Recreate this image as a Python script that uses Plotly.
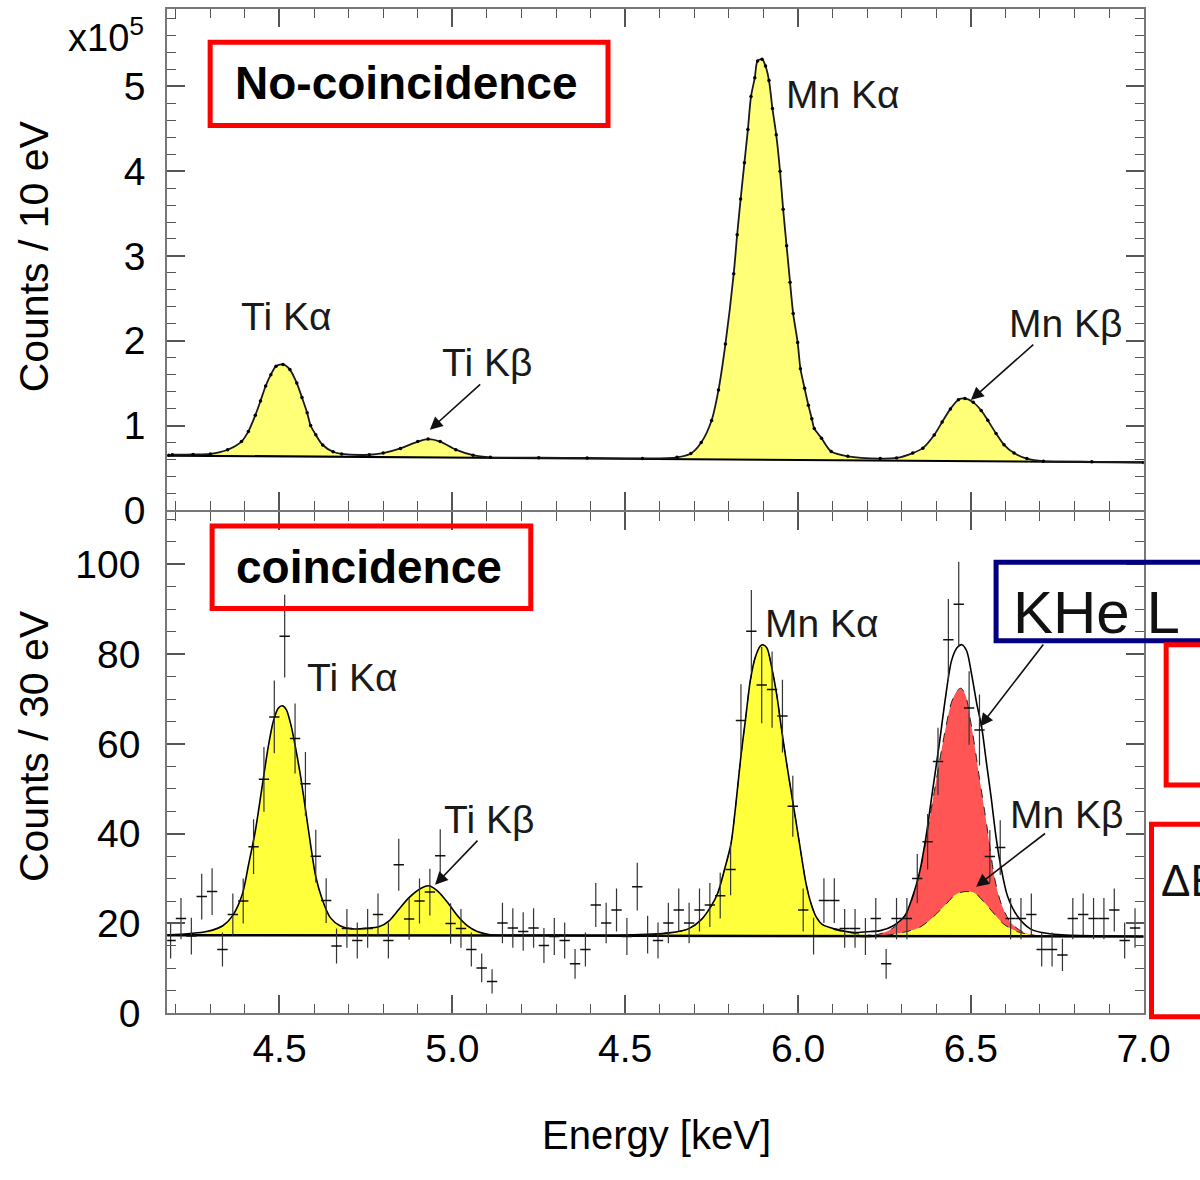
import plotly.graph_objects as go

# ------------------------------------------------------------------
# DATA
# ------------------------------------------------------------------
# Top panel: no-coincidence spectrum, counts / 10 eV in units of 1e5
top_E = [4.18, 4.19, 4.25, 4.30, 4.35, 4.39, 4.41, 4.43, 4.445, 4.46, 4.475, 4.49,
         4.51, 4.53, 4.55, 4.565, 4.58, 4.59, 4.605, 4.625, 4.655, 4.68, 4.76, 4.80,
         4.85, 4.90, 4.93, 4.965, 5.01, 5.06, 5.11, 5.25, 5.39, 5.55, 5.65, 5.69,
         5.72, 5.75, 5.77, 5.79, 5.814, 5.824, 5.834, 5.845, 5.855, 5.864, 5.875,
         5.883, 5.896, 5.906, 5.916, 5.926, 5.937, 5.948, 5.957, 5.967, 5.977,
         5.986, 5.999, 6.007, 6.019, 6.030, 6.040, 6.047, 6.068, 6.096, 6.144,
         6.238, 6.285, 6.332, 6.361, 6.394, 6.417, 6.441, 6.464, 6.483, 6.507,
         6.530, 6.549, 6.573, 6.596, 6.625, 6.662, 6.71, 6.85, 7.0]
top_counts = [0.650, 0.656, 0.658, 0.665, 0.714, 0.81, 0.93, 1.12, 1.29, 1.466, 1.60, 1.70,
              1.72, 1.66, 1.50, 1.33, 1.15, 1.00, 0.89, 0.77, 0.69, 0.665, 0.655, 0.675,
              0.73, 0.81, 0.84, 0.81, 0.715, 0.65, 0.625, 0.62, 0.617, 0.612, 0.625, 0.67,
              0.80, 1.06, 1.42, 1.96, 2.79, 3.25, 3.67, 4.10, 4.49, 4.88, 5.10,
              5.30, 5.32, 5.24, 5.07, 4.74, 4.43, 4.00, 3.55, 3.12, 2.69,
              2.32, 1.98, 1.67, 1.44, 1.24, 1.08, 0.965, 0.85, 0.694, 0.637,
              0.61, 0.617, 0.675, 0.733, 0.888, 1.042, 1.196, 1.304, 1.319, 1.273,
              1.177, 1.061, 0.906, 0.772, 0.675, 0.61, 0.579, 0.572, 0.565]
top_base_E = [4.175, 7.0]
top_base = [0.645, 0.565]

# Bottom panel: coincidence spectrum, counts / 30 eV
bot_E = [4.185, 4.215, 4.245, 4.275, 4.305, 4.335, 4.365, 4.395, 4.425, 4.455,
         4.485, 4.515, 4.545, 4.575, 4.605, 4.635, 4.665, 4.695, 4.725, 4.755,
         4.785, 4.815, 4.845, 4.875, 4.905, 4.935, 4.965, 4.995, 5.025, 5.055,
         5.085, 5.115, 5.145, 5.175, 5.205, 5.235, 5.265, 5.295, 5.325, 5.355,
         5.385, 5.415, 5.445, 5.475, 5.505, 5.535, 5.565, 5.595, 5.625, 5.655,
         5.685, 5.715, 5.745, 5.775, 5.805, 5.835, 5.865, 5.895, 5.925, 5.955,
         5.985, 6.015, 6.045, 6.075, 6.105, 6.135, 6.165, 6.195, 6.225, 6.255,
         6.285, 6.315, 6.345, 6.375, 6.405, 6.435, 6.465, 6.495, 6.525, 6.555,
         6.585, 6.615, 6.645, 6.675, 6.705, 6.735, 6.765, 6.795, 6.825, 6.855,
         6.885, 6.915, 6.945, 6.975]
bot_counts = [16.2, 21.1, 17.2, 26.0, 27.1, 14.2, 22.0, 25.0, 37.1, 52.1,
              66.0, 84.0, 61.2, 51.1, 35.0, 25.1, 15.0, 18.9, 16.2, 18.9,
              22.0, 16.2, 33.1, 21.0, 25.0, 27.0, 35.1, 20.0, 18.9, 14.2,
              10.1, 7.1, 20.1, 19.0, 18.2, 19.0, 15.1, 17.1, 16.2, 11.0,
              14.2, 24.1, 20.1, 23.0, 17.1, 28.2, 17.5, 16.2, 20.1, 23.0,
              20.1, 23.0, 24.1, 26.2, 32.0, 65.2, 85.1, 73.1, 72.1, 66.2,
              46.1, 23.0, 17.2, 25.1, 25.1, 18.9, 18.9, 17.1, 21.1, 11.0,
              21.1, 21.1, 30.0, 38.2, 56.1, 83.2, 91.1, 68.0, 63.1, 34.9,
              36.9, 21.1, 21.1, 22.0, 14.2, 14.2, 13.0, 21.1, 22.0, 21.1,
              21.1, 23.0, 16.2, 19.0]
bot_err = [4.0, 4.6, 4.1, 5.1, 5.2, 3.8, 4.7, 5.0, 6.1, 7.2,
           8.1, 9.2, 7.8, 7.1, 5.9, 5.0, 3.9, 4.3, 4.0, 4.3,
           4.7, 4.0, 5.8, 4.6, 5.0, 5.2, 5.9, 4.5, 4.3, 3.8,
           3.2, 2.7, 4.5, 4.4, 4.3, 4.4, 3.9, 4.1, 4.0, 3.3,
           3.8, 4.9, 4.5, 4.8, 4.1, 5.3, 4.2, 4.0, 4.5, 4.8,
           4.5, 4.8, 4.9, 5.1, 5.7, 8.1, 9.2, 8.5, 8.5, 8.1,
           6.8, 4.8, 4.1, 5.0, 5.0, 4.3, 4.3, 4.1, 4.6, 3.3,
           4.6, 4.6, 5.5, 6.2, 7.5, 9.1, 9.5, 8.2, 7.9, 5.9,
           6.1, 4.6, 4.6, 4.7, 3.8, 3.8, 3.6, 4.6, 4.7, 4.6,
           4.6, 4.8, 4.0, 4.4]
bin_half_width = 0.015

# Total fit
fit_E = [4.175, 4.289, 4.336, 4.364, 4.392, 4.411, 4.430, 4.449, 4.468, 4.482, 4.496,
         4.508, 4.520, 4.534, 4.548, 4.562, 4.576, 4.591, 4.605, 4.624, 4.647, 4.675,
         4.709, 4.751, 4.789, 4.817, 4.845, 4.874, 4.911, 4.932, 4.959, 4.987, 5.015,
         5.043, 5.072, 5.109, 5.30, 5.50, 5.627, 5.683, 5.721, 5.749, 5.768, 5.787,
         5.806, 5.820, 5.834, 5.848, 5.862, 5.876, 5.891, 5.898, 5.910, 5.924, 5.938,
         5.952, 5.966, 5.980, 5.994, 6.009, 6.023, 6.037, 6.051, 6.070, 6.106, 6.162,
         6.21, 6.238, 6.276, 6.309, 6.332, 6.351, 6.370, 6.389, 6.408, 6.427, 6.444,
         6.460, 6.474, 6.488, 6.502, 6.517, 6.531, 6.545, 6.559, 6.573, 6.587, 6.606,
         6.634, 6.672, 6.728, 7.0]
fit = [17.4, 18.2, 19.5, 21.7, 26.4, 33.3, 40.6, 50.1, 59.6, 65.0, 67.9,
       68.5, 67.6, 63.9, 58.5, 52.3, 45.0, 37.0, 30.4, 25.3, 21.3, 19.5,
       18.8, 18.9, 19.3, 20.6, 23.1, 25.7, 27.9, 28.4, 27.1, 24.6, 21.7,
       19.5, 18.2, 17.5, 17.4, 17.4, 17.9, 18.8, 20.9, 23.9, 26.8, 31.9,
       37.7, 46.4, 56.7, 65.4, 74.1, 79.2, 81.8, 82.1, 81.4, 77.0, 71.2,
       63.5, 56.2, 49.5, 42.8, 35.5, 29.0, 24.6, 21.7, 19.8, 18.8, 18.0,
       18.2, 18.4, 19.5, 21.7, 26.1, 31.2, 39.2, 49.4, 59.6, 70.5, 78.5,
       81.4, 82.1, 80.7, 75.6, 69.0, 63.9, 55.9, 47.9, 39.2, 32.6, 26.1,
       21.7, 18.8, 17.7, 17.1]

# Ti K-alpha + Ti K-beta components (yellow)
ti_E = [4.175, 4.289, 4.336, 4.364, 4.392, 4.411, 4.430, 4.449, 4.468, 4.482, 4.496,
        4.508, 4.520, 4.534, 4.548, 4.562, 4.576, 4.591, 4.605, 4.624, 4.647, 4.675,
        4.709, 4.751, 4.789, 4.817, 4.845, 4.874, 4.911, 4.932, 4.959, 4.987, 5.015,
        5.043, 5.072, 5.109, 5.30, 5.60]
ti = [17.4, 18.2, 19.5, 21.7, 26.4, 33.3, 40.6, 50.1, 59.6, 65.0, 67.9,
      68.5, 67.6, 63.9, 58.5, 52.3, 45.0, 37.0, 30.4, 25.3, 21.3, 19.5,
      18.8, 18.9, 19.3, 20.6, 23.1, 25.7, 27.9, 28.4, 27.1, 24.6, 21.7,
      19.5, 18.2, 17.6, 17.5, 17.3]

# Mn K-alpha component (yellow)
mnka_E = [5.50, 5.627, 5.683, 5.721, 5.749, 5.768, 5.787, 5.806, 5.820, 5.834, 5.848,
          5.862, 5.876, 5.891, 5.898, 5.910, 5.924, 5.938, 5.952, 5.966, 5.980, 5.994,
          6.009, 6.023, 6.037, 6.051, 6.070, 6.106, 6.162, 6.22]
mnka = [17.3, 17.9, 18.8, 20.9, 23.9, 26.8, 31.9, 37.7, 46.4, 56.7, 65.4,
        74.1, 79.2, 81.8, 82.1, 81.4, 77.0, 71.2, 63.5, 56.2, 49.5, 42.8,
        35.5, 29.0, 24.6, 21.7, 19.8, 18.6, 17.8, 17.3]

# KHe L (red) component, stacked on Mn K-beta
khe_E = [6.22, 6.26, 6.28, 6.309, 6.332, 6.351, 6.370, 6.389, 6.408, 6.427, 6.445,
         6.462, 6.472, 6.485, 6.497, 6.511, 6.525, 6.540, 6.554, 6.568, 6.587, 6.615,
         6.653, 6.69]
khe = [17.3, 18.3, 19.3, 21.5, 25.8, 30.8, 38.5, 47.0, 55.5, 63.5, 69.5,
       72.0, 72.4, 70.8, 66.1, 59.6, 52.3, 45.0, 37.7, 30.4, 24.6, 20.2,
       18.0, 17.3]

# Mn K-beta component (yellow)
mnkb_E = [6.25, 6.304, 6.351, 6.389, 6.427, 6.455, 6.483, 6.511, 6.540, 6.568, 6.596,
          6.634, 6.682]
mnkb = [17.3, 18.0, 19.1, 21.3, 24.2, 26.4, 27.1, 26.8, 24.6, 22.1, 19.8,
        18.2, 17.3]

bot_base_E = [4.175, 7.0]
bot_base = [17.4, 17.1]

# Axis ticks
x_tick_vals = [4.5, 5.0, 5.5, 6.0, 6.5, 7.0]
x_tick_text = ["4.5", "5.0", "4.5", "6.0", "6.5", "7.0"]
top_y_tick_vals = [0, 1, 2, 3, 4, 5]
bot_y_tick_vals = [0, 20, 40, 60, 80, 100]

# ------------------------------------------------------------------
# FIGURE
# ------------------------------------------------------------------
W, H = 1200, 1180
FONT = "Liberation Sans, Arial, Helvetica, sans-serif"
YEL_TOP = "#FFFF78"
YEL_BOT = "#FFFF3C"
RED = "#FF5555"


def px(x):
    return x / W


def py(y):
    return 1 - y / H


fig = go.Figure()


def hidden_base(xa, ya, ex, ey):
    fig.add_trace(go.Scatter(x=ex, y=ey, mode="lines", line=dict(width=0, color="rgba(0,0,0,0)"),
                             xaxis=xa, yaxis=ya, hoverinfo="skip", showlegend=False))


def filled(xa, ya, ex, ey, color, dash="dash", lw=1.0):
    fig.add_trace(go.Scatter(x=ex, y=ey, mode="lines", fill="tonexty", fillcolor=color,
                             line=dict(color="#222222", width=lw, dash=dash, shape="spline", smoothing=0.8),
                             xaxis=xa, yaxis=ya, showlegend=False))


# ---- top panel ----
hidden_base("x", "y", top_base_E, top_base)
filled("x", "y", top_E, top_counts, YEL_TOP, dash="solid", lw=0)
fig.add_trace(go.Scatter(x=top_base_E, y=top_base, mode="lines",
                         line=dict(color="black", width=2.2), xaxis="x", yaxis="y", showlegend=False))
fig.add_trace(go.Scatter(x=top_E, y=top_counts, mode="lines+markers",
                         line=dict(color="#1a1a1a", width=1.8, shape="spline", smoothing=0.8),
                         marker=dict(size=3.5, color="black"),
                         xaxis="x", yaxis="y", showlegend=False))

# ---- bottom panel ----
hidden_base("x2", "y2", bot_base_E, bot_base)
filled("x2", "y2", ti_E, ti, YEL_BOT, dash="solid", lw=0)
hidden_base("x2", "y2", bot_base_E, bot_base)
filled("x2", "y2", mnka_E, mnka, YEL_BOT)
hidden_base("x2", "y2", bot_base_E, bot_base)
filled("x2", "y2", khe_E, khe, RED)
hidden_base("x2", "y2", bot_base_E, bot_base)
filled("x2", "y2", mnkb_E, mnkb, YEL_BOT)
fig.add_trace(go.Scatter(x=fit_E, y=fit, mode="lines",
                         line=dict(color="black", width=1.6, shape="spline", smoothing=0.8),
                         xaxis="x2", yaxis="y2", showlegend=False))
fig.add_trace(go.Scatter(x=bot_base_E, y=bot_base, mode="lines",
                         line=dict(color="black", width=2.5), xaxis="x2", yaxis="y2", showlegend=False))
fig.add_trace(go.Scatter(x=bot_E, y=bot_counts, mode="markers",
                         marker=dict(size=1, color="black"),
                         error_y=dict(type="data", array=bot_err, visible=True, color="#333333",
                                      thickness=1.2, width=0),
                         error_x=dict(type="constant", value=bin_half_width, visible=True, color="#111111",
                                      thickness=1.5, width=0),
                         xaxis="x2", yaxis="y2", showlegend=False))

# ---- axes ----
XDOM = [px(171), px(1170)]
XRANGE = [4.175, 7.0]
axis_common = dict(showline=True, linecolor="#777777", linewidth=2, mirror="ticks",
                   ticks="inside", ticklen=18, tickwidth=1.5, tickcolor="#555555",
                   showgrid=False, zeroline=False,
                   tickfont=dict(family=FONT, size=39, color="black"))

fig.update_layout(
    xaxis=dict(domain=XDOM, range=XRANGE, anchor="y", tickvals=x_tick_vals,
               showticklabels=False,
               minor=dict(dtick=0.1, tick0=4.0, ticks="inside", ticklen=9, tickcolor="#555555", tickwidth=1.2),
               **axis_common),
    yaxis=dict(domain=[py(520), py(9)], range=[0, 5.914], anchor="x",
               tickvals=top_y_tick_vals, ticklabelstandoff=12,
               minor=dict(dtick=0.2, ticks="inside", ticklen=9, tickcolor="#555555", tickwidth=1.2),
               **axis_common),
    xaxis2=dict(domain=XDOM, range=XRANGE, anchor="y2", tickvals=x_tick_vals,
                ticktext=x_tick_text, ticklabelstandoff=0,
                minor=dict(dtick=0.1, tick0=4.0, ticks="inside", ticklen=9, tickcolor="#555555", tickwidth=1.2),
                **axis_common),
    yaxis2=dict(domain=[py(1032.5), py(522)], range=[0, 111.6], anchor="x2",
                tickvals=bot_y_tick_vals, ticklabelstandoff=17,
                minor=dict(dtick=5, ticks="inside", ticklen=9, tickcolor="#555555", tickwidth=1.2),
                **axis_common),
    width=W, height=H, margin=dict(l=0, r=0, t=0, b=0),
    paper_bgcolor="white", plot_bgcolor="white", showlegend=False,
    font=dict(family=FONT, color="black"),
)

# ---- text annotations ----
ann = []


def ptext(x, y, text, size, bold=False, angle=0, xanchor="center", color="black"):
    t = f"<b>{text}</b>" if bold else text
    ann.append(dict(x=px(x), y=py(y), xref="paper", yref="paper", text=t, showarrow=False,
                    xanchor=xanchor, yanchor="middle", textangle=angle,
                    font=dict(family=FONT, size=size, color=color)))


def dtext(xa, ya, x, y, text, size=39):
    ann.append(dict(x=x, y=y, xref=xa, yref=ya, text=text, showarrow=False,
                    xanchor="center", yanchor="middle",
                    font=dict(family=FONT, size=size, color="#1a1a1a")))


def arrow(xa, ya, x_tip, y_tip, x_tail, y_tail):
    ann.append(dict(x=x_tip, y=y_tip, xref=xa, yref=ya, ax=x_tail, ay=y_tail,
                    axref=xa, ayref=ya, text="", showarrow=True, arrowhead=2,
                    arrowsize=1.6, arrowwidth=1.6, arrowcolor="#111111"))


ptext(108, 36, "x10<sup>5</sup>", 38)
ptext(35, 261, "Counts / 10 eV", 41, angle=-90)
ptext(35, 760, "Counts / 30 eV", 41, angle=-90)
ptext(672, 1157, "Energy [keV]", 40)
ptext(416, 85, "No-coincidence", 46, bold=True)
ptext(378, 578, "coincidence", 46, bold=True)
ptext(1034, 624, "KHe L", 60, xanchor="left", color="#111111")
ptext(1186, 897, "ΔE", 44, xanchor="left", color="#111111")

# top labels
dtext("x", "y", 4.52, 2.29, "Ti Kα")
dtext("x", "y", 5.10, 1.74, "Ti Kβ")
dtext("x", "y", 6.13, 4.90, "Mn Kα")
dtext("x", "y", 6.775, 2.20, "Mn Kβ")
arrow("x", "y", 4.935, 0.95, 5.085, 1.50)
arrow("x", "y", 6.50, 1.30, 6.685, 1.97)

# bottom labels
dtext("x2", "y2", 4.71, 74.9, "Ti Kα")
dtext("x2", "y2", 5.106, 43.2, "Ti Kβ")
dtext("x2", "y2", 6.068, 86.9, "Mn Kα")
dtext("x2", "y2", 6.776, 44.3, "Mn Kβ")
arrow("x2", "y2", 4.95, 28.6, 5.077, 38.8)
arrow("x2", "y2", 6.515, 28.2, 6.719, 40.3)
arrow("x2", "y2", 6.527, 63.9, 6.713, 82.5)

fig.update_layout(annotations=ann)

# ---- boxes ----
shapes = [
    dict(type="rect", xref="paper", yref="paper", x0=px(215), x1=px(622), y0=py(128), y1=py(43),
         line=dict(color="#FF0000", width=5)),
    dict(type="rect", xref="paper", yref="paper", x0=px(217), x1=px(543), y0=py(620), y1=py(536),
         line=dict(color="#FF0000", width=5)),
    dict(type="rect", xref="paper", yref="paper", x0=px(1019), x1=px(1320), y0=py(653), y1=py(573),
         line=dict(color="#000080", width=5)),
    dict(type="rect", xref="paper", yref="paper", x0=px(1193), x1=px(1320), y0=py(800), y1=py(657),
         line=dict(color="#FF0000", width=5)),
    dict(type="rect", xref="paper", yref="paper", x0=px(1178), x1=px(1320), y0=py(1036), y1=py(840),
         line=dict(color="#FF0000", width=5)),
]
fig.update_layout(shapes=shapes)

fig.write_html("out.html")
